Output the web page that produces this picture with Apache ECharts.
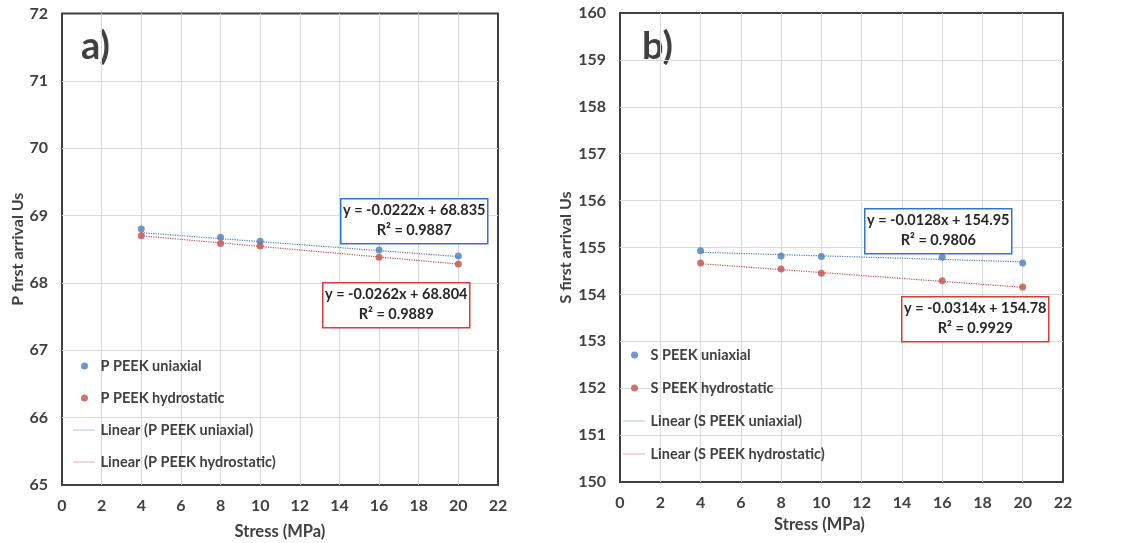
<!DOCTYPE html>
<html>
<head>
<meta charset="utf-8">
<script src="https://cdn.jsdelivr.net/npm/echarts@6/dist/echarts.min.js"></script>
<style>html,body{margin:0;padding:0;background:#fff;}#c{width:1131px;height:543px;}</style>
</head>
<body>
<div id="c"></div>
<script>
// ---- data ----
const stress = [4, 8, 10, 16, 20];
const pUniaxial = [68.80, 68.68, 68.62, 68.49, 68.40];
const pHydrostatic = [68.70, 68.585, 68.55, 68.38, 68.28];
const sUniaxial = [154.93, 154.82, 154.81, 154.79, 154.67];
const sHydrostatic = [154.67, 154.54, 154.45, 154.29, 154.16];
// trendline coefficients [slope, intercept] as printed in the chart
const pUniFit = [-0.0222, 68.835];
const pHydFit = [-0.0262, 68.804];
const sUniFit = [-0.0128, 154.95];
const sHydFit = [-0.0314, 154.78];
const pUniEq = ['y = -0.0222x + 68.835', 'R² = 0.9887'];
const pHydEq = ['y = -0.0262x + 68.804', 'R² = 0.9889'];
const sUniEq = ['y = -0.0128x + 154.95', 'R² = 0.9806'];
const sHydEq = ['y = -0.0314x + 154.78', 'R² = 0.9929'];
const panelLabels = ['a)', 'b)'];

const BLUE = '#4a7ebb', RED = '#c0504d', TXT = '#404040';
const FONT = 'Lato, "Open Sans", sans-serif';

function pts(xs, ys) { return xs.map((x, i) => [x, ys[i]]); }
function fitLine(fit) {
  const x0 = stress[0], x1 = stress[stress.length - 1];
  return [[x0, fit[0] * x0 + fit[1]], [x1, fit[0] * x1 + fit[1]]];
}

const chart = echarts.init(document.getElementById('c'), null, {renderer: 'canvas'});

const axisLabel = {color: TXT, fontWeight: 'bold', fontSize: 16, fontFamily: FONT};
const splitLine = {show: true, showMinLine: false, showMaxLine: false, lineStyle: {color: '#d9d9d9', width: 1}};

function xAx(gridIndex, gap, pad) {
  return {
    type: 'value', gridIndex, min: 0, max: 22, interval: 2,
    axisLine: {show: false}, axisTick: {show: false},
    axisLabel: Object.assign({margin: 13}, axisLabel),
    splitLine,
    name: 'Stress (MPa)', nameLocation: 'middle', nameGap: gap,
    nameTextStyle: {color: TXT, fontWeight: 'bold', fontSize: 16.5, fontFamily: FONT, padding: pad}
  };
}
function yAx(gridIndex, min, max, name) {
  return {
    type: 'value', gridIndex, min, max, interval: 1,
    axisLine: {show: false}, axisTick: {show: false},
    axisLabel: Object.assign({margin: 14}, axisLabel),
    splitLine,
    name, nameLocation: 'middle', nameGap: 36,
    nameTextStyle: {color: TXT, fontWeight: 'bold', fontSize: 16, fontFamily: FONT}
  };
}

function scatter(name, xi, data, color) {
  return {name, type: 'scatter', xAxisIndex: xi, yAxisIndex: xi, data, symbolSize: 7,
    itemStyle: {color}, z: 5};
}
function trend(name, xi, data, color) {
  return {name, type: 'line', xAxisIndex: xi, yAxisIndex: xi, data, symbol: 'none',
    lineStyle: {color, width: 1.2, type: 'dotted'}, itemStyle: {color}, z: 4, silent: true};
}

function legend(left, top, gap, names) {
  const cols = [BLUE, RED];
  return {
    orient: 'vertical', left, top, padding: 0, itemGap: gap, itemWidth: 22, itemHeight: 7,
    textStyle: {color: TXT, fontWeight: 'bold', fontSize: 14.5, fontFamily: FONT, lineHeight: 18},
    data: names.map((n, i) => i < 2 ? {name: n} :
      {name: n, itemStyle: {opacity: 0}, lineStyle: {width: 1, type: 'dotted', color: cols[i - 2], opacity: 0.9}}),
    selectedMode: false
  };
}

function eqBox(x, y, lines, color) {
  const w = 147, h = 45;
  return {
    type: 'group', left: x, top: y, z: 100, zlevel: 0,
    children: [
      {type: 'rect', z: 100, shape: {x: 0, y: 0, width: w, height: h}, style: {fill: '#ffffff', stroke: color, lineWidth: 1.5}},
      {type: 'text', z: 101, x: w / 2, y: 12, style: {text: lines[0], align: 'center', verticalAlign: 'middle', fill: '#262626', font: 'bold 14.5px ' + FONT}},
      {type: 'text', z: 101, x: w / 2, y: 32, style: {text: lines[1], align: 'center', verticalAlign: 'middle', fill: '#262626', font: 'bold 14.5px ' + FONT}}
    ]
  };
}

const option = {
  backgroundColor: '#fff',
  animation: false,
  grid: [
    {left: 62, top: 13.5, width: 436, height: 471.5, show: true, borderColor: '#404040', borderWidth: 2, containLabel: false, outerBoundsMode: 'none'},
    {left: 620, top: 13, width: 443, height: 469, show: true, borderColor: '#404040', borderWidth: 2, containLabel: false, outerBoundsMode: 'none'}
  ],
  xAxis: [xAx(0, 38, [0, 0, 0, 0]), xAx(1, 30, [0, 44, 0, 0])],
  yAxis: [yAx(0, 65, 72, 'P first arrival Us'), yAx(1, 150, 160, 'S first arrival Us')],
  legend: [
    legend(73, 357, 14, ['P PEEK uniaxial', 'P PEEK hydrostatic', 'Linear (P PEEK uniaxial)', 'Linear (P PEEK hydrostatic)']),
    legend(623, 346, 15, ['S PEEK uniaxial', 'S PEEK hydrostatic', 'Linear (S PEEK uniaxial)', 'Linear (S PEEK hydrostatic)'])
  ],
  series: [
    trend('Linear (P PEEK uniaxial)', 0, fitLine(pUniFit), BLUE),
    trend('Linear (P PEEK hydrostatic)', 0, fitLine(pHydFit), RED),
    scatter('P PEEK uniaxial', 0, pts(stress, pUniaxial), BLUE),
    scatter('P PEEK hydrostatic', 0, pts(stress, pHydrostatic), RED),
    trend('Linear (S PEEK uniaxial)', 1, fitLine(sUniFit), BLUE),
    trend('Linear (S PEEK hydrostatic)', 1, fitLine(sHydFit), RED),
    scatter('S PEEK uniaxial', 1, pts(stress, sUniaxial), BLUE),
    scatter('S PEEK hydrostatic', 1, pts(stress, sHydrostatic), RED)
  ],
  graphic: [
    {type: 'text', left: 81, top: 28, style: {text: panelLabels[0], fill: TXT, font: 'bold 38px ' + FONT}},
    {type: 'text', left: 642, top: 28, style: {text: panelLabels[1], fill: TXT, font: 'bold 38px ' + FONT}},
    eqBox(340, 198, pUniEq, '#2e75d6'),
    eqBox(322, 282, pHydEq, '#d93a3a'),
    eqBox(864, 208, sUniEq, '#2e75d6'),
    eqBox(901, 296, sHydEq, '#d93a3a')
  ]
};
chart.setOption(option);
</script>
</body>
</html>
